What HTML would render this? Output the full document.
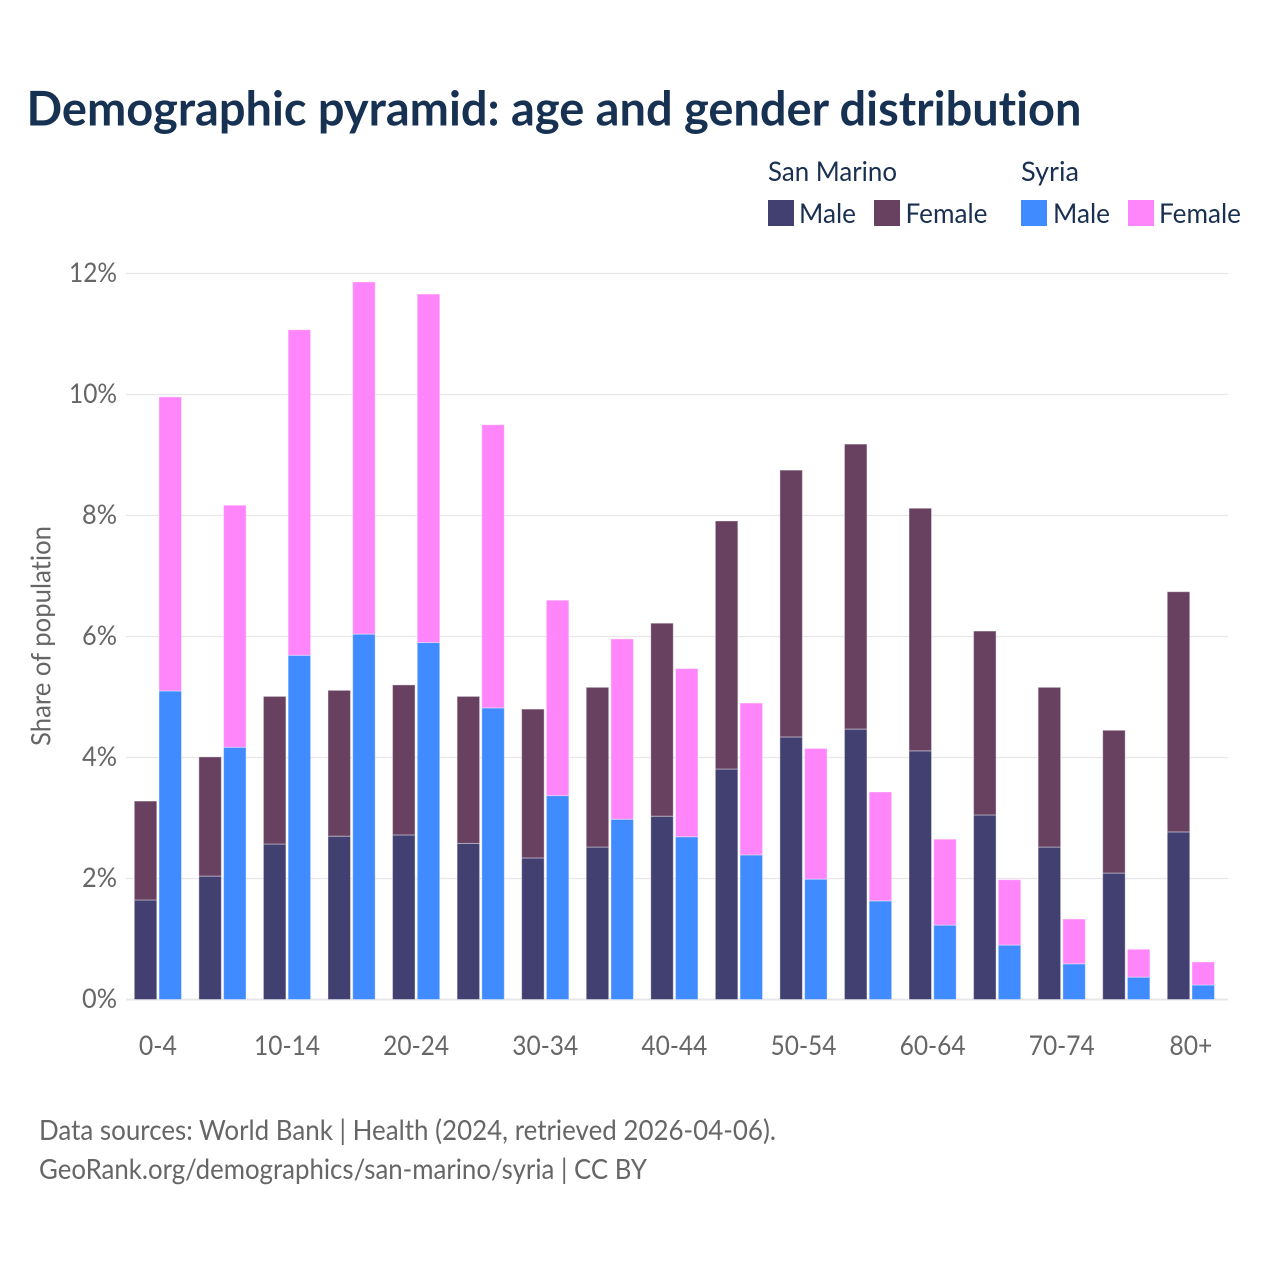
<!DOCTYPE html>
<html lang="en">
<head>
<meta charset="utf-8">
<title>Demographic pyramid</title>
<style>
html,body{margin:0;padding:0;background:#fff;width:1280px;height:1280px;overflow:hidden}
svg{display:block}
text{font-family:"Lato","Carlito","Liberation Sans",sans-serif;font-variant-ligatures:none}
.legend{fill:#1a3050;font-size:27.5px}
.axis{fill:#666;font-size:27px}
.foot{fill:#666;font-size:28px}
</style>
</head>
<body>
<svg id="chart" xmlns="http://www.w3.org/2000/svg" width="1280" height="1280" viewBox="0 0 1280 1280">
  <rect x="0" y="0" width="1280" height="1280" fill="#fff"/>
  <text x="26.5" y="125.5" font-size="48" font-weight="700" fill="#173152" textLength="1055" lengthAdjust="spacingAndGlyphs">Demographic pyramid: age and gender distribution</text>

  <g>
    <text class="legend" x="768" y="181" textLength="129" lengthAdjust="spacingAndGlyphs">San Marino</text>
    <text class="legend" x="1021" y="181" textLength="58" lengthAdjust="spacingAndGlyphs">Syria</text>
    <rect x="768" y="200" width="26" height="26" fill="#423f71"/>
    <text class="legend" x="799" y="223" textLength="57" lengthAdjust="spacingAndGlyphs">Male</text>
    <rect x="874" y="200" width="26" height="26" fill="#684161"/>
    <text class="legend" x="905.5" y="223" textLength="82" lengthAdjust="spacingAndGlyphs">Female</text>
    <rect x="1021" y="200" width="26" height="26" fill="#408bff"/>
    <text class="legend" x="1053" y="223" textLength="57" lengthAdjust="spacingAndGlyphs">Male</text>
    <rect x="1128" y="200" width="26" height="26" fill="#ff85fa"/>
    <text class="legend" x="1159" y="223" textLength="82" lengthAdjust="spacingAndGlyphs">Female</text>
  </g>

  <g id="grid"></g>
  <g id="yticks"></g>
  <g id="bars"></g>
  <g id="xticks"></g>

  <text class="axis" transform="translate(50.5,636) rotate(-90)" text-anchor="middle" textLength="220" lengthAdjust="spacingAndGlyphs">Share of population</text>

  <text class="foot" x="39" y="1140" textLength="737" lengthAdjust="spacingAndGlyphs">Data sources: World Bank | Health (2024, retrieved 2026-04-06).</text>
  <text class="foot" x="39" y="1179" textLength="608" lengthAdjust="spacingAndGlyphs">GeoRank.org/demographics/san-marino/syria | CC BY</text>
</svg>
<script>
const categories = ["0-4","5-9","10-14","15-19","20-24","25-29","30-34","35-39","40-44","45-49","50-54","55-59","60-64","65-69","70-74","75-79","80+"];
const xTickLabels = ["0-4","10-14","20-24","30-34","40-44","50-54","60-64","70-74","80+"];
const yTickValues = [0,2,4,6,8,10,12];
const sanMarinoMale = [1.645,2.04,2.57,2.70,2.72,2.58,2.34,2.52,3.03,3.81,4.34,4.47,4.11,3.05,2.52,2.09,2.77];
const sanMarinoFemale = [1.635,1.97,2.44,2.41,2.48,2.43,2.46,2.64,3.19,4.10,4.41,4.71,4.01,3.04,2.64,2.36,3.97];
const syriaMale = [5.10,4.17,5.69,6.04,5.90,4.82,3.37,2.98,2.69,2.39,1.99,1.63,1.23,0.90,0.59,0.37,0.24];
const syriaFemale = [4.86,4.00,5.38,5.82,5.76,4.68,3.23,2.98,2.78,2.51,2.16,1.80,1.42,1.08,0.74,0.46,0.38];

const NS = "http://www.w3.org/2000/svg";
const plotLeft = 126, plotRight = 1228;
const yZero = 999.5, yPerUnit = 60.5;
const groupStart = 134.3, groupStep = 64.56, barWidth = 22.5, barGap = 2.2;

function yScale(v){ return yZero - v * yPerUnit; }
function groupX(i){ return groupStart + i * groupStep; }

const gridLayer = document.getElementById("grid");
const yTickLayer = document.getElementById("yticks");
const barLayer = document.getElementById("bars");
const xTickLayer = document.getElementById("xticks");

yTickValues.forEach(function(v){
  const line = document.createElementNS(NS, "line");
  
  
  line.setAttribute("x1", plotLeft);
  line.setAttribute("x2", plotRight);
  line.setAttribute("y1", yScale(v));
  line.setAttribute("y2", yScale(v));
  line.setAttribute("stroke", "#e8e6ea");
  line.setAttribute("stroke-width", v === 0 ? 2 : 1.2);
  gridLayer.appendChild(line);

  const label = document.createElementNS(NS, "text");
  
  
  label.setAttribute("class", "axis");
  label.setAttribute("x", 117);
  label.setAttribute("y", yScale(v) + 8.5);
  label.setAttribute("text-anchor", "end");
  label.setAttribute("textLength", v >= 10 ? 48 : 35);
  label.setAttribute("lengthAdjust", "spacingAndGlyphs");
  label.textContent = v + "%";
  yTickLayer.appendChild(label);
});

function addBar(x, base, value, fill, name){
  const r = document.createElementNS(NS, "rect");
  
  
  r.setAttribute("x", x);
  r.setAttribute("y", yScale(base + value));
  r.setAttribute("width", barWidth);
  r.setAttribute("height", value * yPerUnit);
  r.setAttribute("fill", fill);
  r.setAttribute("stroke", "#fff");
  r.setAttribute("stroke-opacity", "0.4");
  r.setAttribute("stroke-width", "1");
  barLayer.appendChild(r);
}

categories.forEach(function(cat, i){
  const x1 = groupX(i);
  const x2 = x1 + barWidth + barGap;
  addBar(x1, 0, sanMarinoMale[i], "#423f71", "bar-san-marino-male-" + cat);
  addBar(x1, sanMarinoMale[i], sanMarinoFemale[i], "#684161", "bar-san-marino-female-" + cat);
  addBar(x2, 0, syriaMale[i], "#408bff", "bar-syria-male-" + cat);
  addBar(x2, syriaMale[i], syriaFemale[i], "#ff85fa", "bar-syria-female-" + cat);
});

xTickLabels.forEach(function(lab){
  const i = categories.indexOf(lab);
  const t = document.createElementNS(NS, "text");
  
  
  t.setAttribute("class", "axis");
  t.setAttribute("x", groupX(i) + barWidth + barGap / 2);
  t.setAttribute("y", 1055);
  t.setAttribute("text-anchor", "middle");
  t.setAttribute("textLength", lab.length === 3 && lab !== "0-4" ? 43 : (lab === "0-4" ? 38 : 66));
  t.setAttribute("lengthAdjust", "spacingAndGlyphs");
  t.textContent = lab;
  xTickLayer.appendChild(t);
});
</script>
</body>
</html>
